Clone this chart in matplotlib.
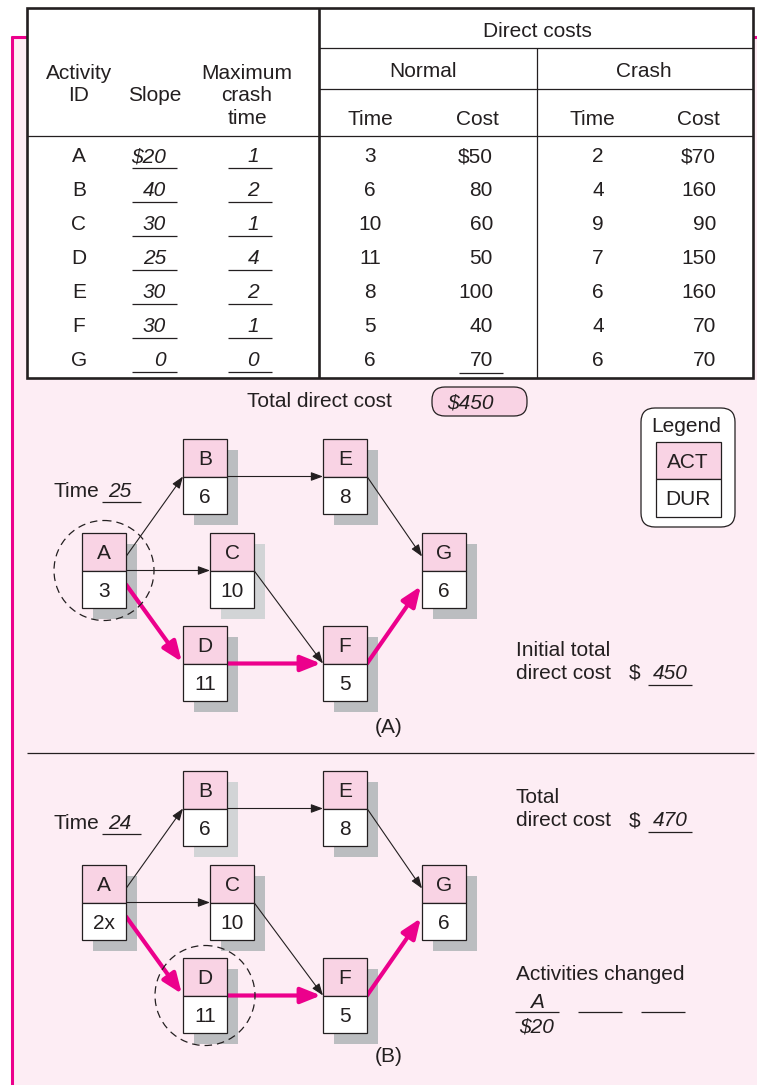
import matplotlib
matplotlib.use('Agg')
import matplotlib.pyplot as plt
from matplotlib.patches import Rectangle, Circle, FancyBboxPatch

plt.rcParams['font.family'] = ['Liberation Sans', 'DejaVu Sans']

# ---- table data ----
activities = ['A', 'B', 'C', 'D', 'E', 'F', 'G']
slopes = [20, 40, 30, 25, 30, 30, 0]
max_crash = [1, 2, 1, 4, 2, 1, 0]
normal_time = [3, 6, 10, 11, 8, 5, 6]
normal_cost = [50, 80, 60, 50, 100, 40, 70]
crash_time = [2, 4, 9, 7, 6, 4, 6]
crash_cost = [70, 160, 90, 150, 160, 70, 70]
total_direct_cost = 450

# ---- network data ----
edges = [('A', 'B'), ('A', 'C'), ('A', 'D'), ('B', 'E'),
         ('C', 'F'), ('D', 'F'), ('E', 'G'), ('F', 'G')]
critical = [('A', 'D'), ('D', 'F'), ('F', 'G')]
dur_a = ['3', '6', '10', '11', '8', '5', '6']
dur_b = ['2x', '6', '10', '11', '8', '5', '6']
time_a, time_b = 25, 24
cost_a, cost_b = 450, 470
changed = [('A', '$20')]

# ---- styles / layout ----
INK = '#231f20'
MAG = '#ec008c'
PANEL = '#fdedf4'
HEAD = '#f9d3e4'
SHADOW = '#bbbdc0'
SHADOW_LT = '#d2d4d6'
FS = 15

node_pos = {'A': (82, 533), 'B': (183, 439), 'C': (210, 533), 'D': (183, 626),
            'E': (323, 439), 'F': (323, 626), 'G': (422, 533)}
# vertical offsets of arrow ends relative to box middle (start, end)
edge_off = {('A', 'B'): (-14, 0), ('A', 'D'): (14, 0),
            ('E', 'G'): (0, -14), ('F', 'G'): (0, 14)}
W, H = 44, 75

fig = plt.figure(figsize=(7.57, 10.85), dpi=100)
ax = fig.add_axes([0, 0, 1, 1])
ax.set_xlim(0, 757)
ax.set_ylim(1085, 0)
ax.axis('off')


def txt(x, y, s, ha='center', style='normal', size=FS, z=5):
    ax.text(x, y, s, ha=ha, va='baseline', fontsize=size, style=style,
            color=INK, zorder=z)


def hline(x0, x1, y, lw=0.9, color=INK, z=5):
    ax.plot([x0, x1], [y, y], color=color, lw=lw, zorder=z,
            solid_capstyle='butt')


def vline(x, y0, y1, lw=0.9, color=INK, z=5):
    ax.plot([x, x], [y0, y1], color=color, lw=lw, zorder=z,
            solid_capstyle='butt')


# pink panel
ax.add_patch(Rectangle((12, 37), 760, 1060, fc=PANEL, ec='none', zorder=0))
vline(12, 36, 1090, lw=2.2, color=MAG, z=1)
hline(11, 760, 37, lw=2.2, color=MAG, z=1)

# ---- table ----
ax.add_patch(Rectangle((27, 8), 726, 370, fc='white', ec='none', zorder=2))
ax.add_patch(Rectangle((27, 8), 726, 370, fc='none', ec=INK, lw=1.9, zorder=6))
vline(319, 8, 378, lw=1.9)
vline(537, 48, 378)
hline(319, 753, 48)
hline(319, 753, 89)
hline(27, 753, 136)

txt(537, 37, 'Direct costs')
txt(423, 77, 'Normal')
txt(644, 77, 'Crash')
for x, s in [(370, 'Time'), (477, 'Cost'), (592, 'Time'), (698, 'Cost')]:
    txt(x, 125, s)
txt(79, 79, 'Activity')
txt(79, 101, 'ID')
txt(155, 101, 'Slope')
txt(247, 79, 'Maximum')
txt(247, 101, 'crash')
txt(247, 124, 'time')

for i, act in enumerate(activities):
    yb = 162 + 34 * i
    txt(79, yb, act)
    s = ('$%d' if i == 0 else '%d') % slopes[i]
    txt(166, yb, s, ha='right', style='italic')
    hline(132, 177, yb + 6)
    txt(259, yb, str(max_crash[i]), ha='right', style='italic')
    hline(228, 272, yb + 6)
    txt(370, yb, str(normal_time[i]))
    txt(493, yb, ('$%d' if i == 0 else '%d') % normal_cost[i], ha='right')
    txt(598, yb, str(crash_time[i]))
    txt(716, yb, ('$%d' if i == 0 else '%d') % crash_cost[i], ha='right')
hline(459, 503, 162 + 34 * 6 + 7)

# total direct cost
txt(247, 407, 'Total direct cost', ha='left')
ax.add_patch(FancyBboxPatch((432, 387), 95, 29,
                            boxstyle='round,pad=0,rounding_size=13',
                            fc=HEAD, ec=INK, lw=0.9, zorder=3))
txt(447, 409, '$%d' % total_direct_cost, ha='left', style='italic')

# legend
ax.add_patch(FancyBboxPatch((641, 408), 94, 119,
                            boxstyle='round,pad=0,rounding_size=14',
                            fc='white', ec=INK, lw=0.9, zorder=3))
txt(686, 432, 'Legend')
ax.add_patch(Rectangle((656, 442), 65, 37, fc=HEAD, ec=INK, lw=0.9, zorder=4))
ax.add_patch(Rectangle((656, 479), 65, 38, fc='white', ec=INK, lw=0.9, zorder=4))
txt(688, 468, 'ACT')
txt(688, 505, 'DUR')


def draw_network(dy, durs, light, circled, time_val):
    for i, act in enumerate(activities):
        x, y = node_pos[act]
        y += dy
        sh = SHADOW_LT if act == light else SHADOW
        ax.add_patch(Rectangle((x + 11, y + 11), W, H, fc=sh, ec='none', zorder=2))
        ax.add_patch(Rectangle((x, y), W, H / 2, fc=HEAD, ec=INK, lw=0.9, zorder=4))
        ax.add_patch(Rectangle((x, y + H / 2), W, H / 2, fc='white', ec=INK,
                               lw=0.9, zorder=4))
        txt(x + W / 2, y + H / 4 + 7.5, act)
        txt(x + W / 2, y + 3 * H / 4 + 7.5, durs[i])
    for a, b in edges:
        xa, ya = node_pos[a]
        xb, yb = node_pos[b]
        o0, o1 = edge_off.get((a, b), (0, 0))
        start = (xa + W, ya + dy + H / 2 + o0)
        end = (xb, yb + dy + H / 2 + o1)
        if (a, b) in critical:
            props = dict(arrowstyle='-|>,head_length=1.0,head_width=0.4',
                         color=MAG, lw=3.0, mutation_scale=12,
                         shrinkA=0, shrinkB=1.5)
        else:
            props = dict(arrowstyle='-|>,head_length=0.6,head_width=0.22',
                         color=INK, lw=0.8, mutation_scale=12,
                         shrinkA=0, shrinkB=0)
        ax.annotate('', xy=end, xytext=start, arrowprops=props, zorder=3)
    cx, cy = node_pos[circled]
    ax.add_patch(Circle((cx + W / 2, cy + dy + H / 2), 50, fill=False,
                        ls=(0, (6, 4)), lw=0.9, ec=INK, zorder=3))
    txt(54, 497 + dy, 'Time', ha='left')
    txt(108, 497 + dy, str(time_val), ha='left', style='italic')
    hline(102, 141, 502 + dy)


draw_network(0, dur_a, 'C', 'A', time_a)
draw_network(332, dur_b, 'B', 'D', time_b)

txt(516, 656, 'Initial total', ha='left')
txt(516, 679, 'direct cost', ha='left')
txt(629, 679, '$', ha='left')
txt(670, 679, str(cost_a), style='italic')
hline(648, 692, 685)
txt(389, 733, '(A)')

hline(27, 754, 753)

txt(516, 803, 'Total', ha='left')
txt(516, 826, 'direct cost', ha='left')
txt(629, 826, '$', ha='left')
txt(670, 826, str(cost_b), style='italic')
hline(648, 692, 832)

txt(516, 980, 'Activities changed', ha='left')
blank_x = [515, 578, 641]
for k, x0 in enumerate(blank_x):
    hline(x0, x0 + 44, 1012)
    if k < len(changed):
        txt(x0 + 22, 1008, changed[k][0], style='italic')
        txt(x0 + 22, 1033, changed[k][1], style='italic')
txt(389, 1062, '(B)')

fig.savefig('out.png', dpi=100)
